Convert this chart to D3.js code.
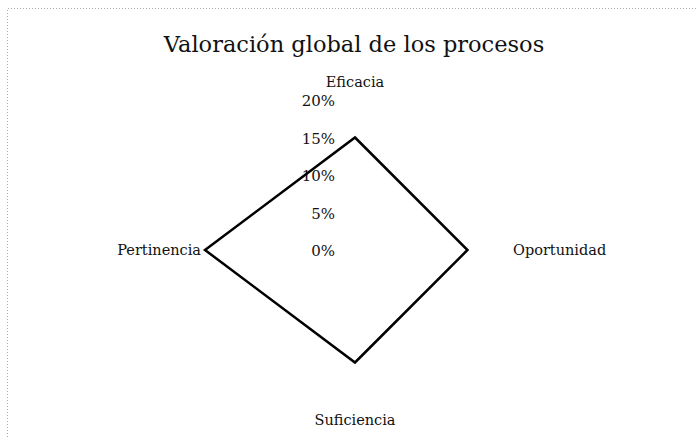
<!DOCTYPE html>
<html>
<head>
<meta charset="utf-8">
<script src="https://cdn.jsdelivr.net/npm/d3@7/dist/d3.min.js"></script>
<style>
  html, body { margin: 0; padding: 0; background: #fff; }
  svg { display: block; }
  text { font-family: "DejaVu Serif", "Liberation Serif", serif; fill: #111; }
</style>
</head>
<body>
<svg id="chart" width="696" height="437"></svg>
<script>
// Radar chart: overall assessment of the processes
const title = "Valoración global de los procesos";
const axes = ["Eficacia", "Oportunidad", "Suficiencia", "Pertinencia"];
const values = [0.15, 0.15, 0.15, 0.20];
const ticks = [0, 0.05, 0.10, 0.15, 0.20];
const tickLabels = ["0%", "5%", "10%", "15%", "20%"];

const width = 696, height = 437;
const cx = 355, cy = 250, radius = 150;

const svg = d3.select("#chart");

// Light dotted frame along the top and left edges
svg.append("path")
  .attr("d", `M7.5,437 L7.5,8.5 L696,8.5`)
  .attr("fill", "none")
  .attr("stroke", "#aaa")
  .attr("stroke-width", 1)
  .attr("stroke-dasharray", "1,2");

svg.append("text")
  .attr("x", cx - 1)
  .attr("y", 52)
  .attr("text-anchor", "middle")
  .style("font-size", "22.5px")
  .text(title);

const r = d3.scaleLinear().domain([0, 0.20]).range([0, radius]);
const angle = d3.scaleOrdinal().domain(axes)
  .range(axes.map((_, i) => i * 2 * Math.PI / axes.length));

const g = svg.append("g").attr("transform", `translate(${cx},${cy})`);

// Value labels along the vertical axis
g.selectAll("text.tick")
  .data(ticks)
  .join("text")
  .attr("class", "tick")
  .attr("x", -20)
  .attr("y", d => -r(d) + 1)
  .attr("dy", "0.35em")
  .attr("text-anchor", "end")
  .style("font-size", "15px")
  .text((d, i) => tickLabels[i]);

// Category labels
const labelPos = [
  { dx: 0, dy: -168, anchor: "middle" },
  { dx: 158, dy: 0, anchor: "start" },
  { dx: 0, dy: 170, anchor: "middle" },
  { dx: -154, dy: 0, anchor: "end" }
];
g.selectAll("text.axis")
  .data(axes)
  .join("text")
  .attr("class", "axis")
  .attr("x", (d, i) => labelPos[i].dx)
  .attr("y", (d, i) => labelPos[i].dy)
  .attr("dy", "0.35em")
  .attr("text-anchor", (d, i) => labelPos[i].anchor)
  .style("font-size", "14.5px")
  .text(d => d);

// Data polygon
const line = d3.lineRadial()
  .angle((d, i) => angle(axes[i]))
  .radius(d => r(d))
  .curve(d3.curveLinearClosed);

g.append("path")
  .datum(values)
  .attr("d", line)
  .attr("fill", "none")
  .attr("stroke", "#000")
  .attr("stroke-width", 2.5)
  .attr("stroke-linejoin", "miter");
</script>
</body>
</html>
